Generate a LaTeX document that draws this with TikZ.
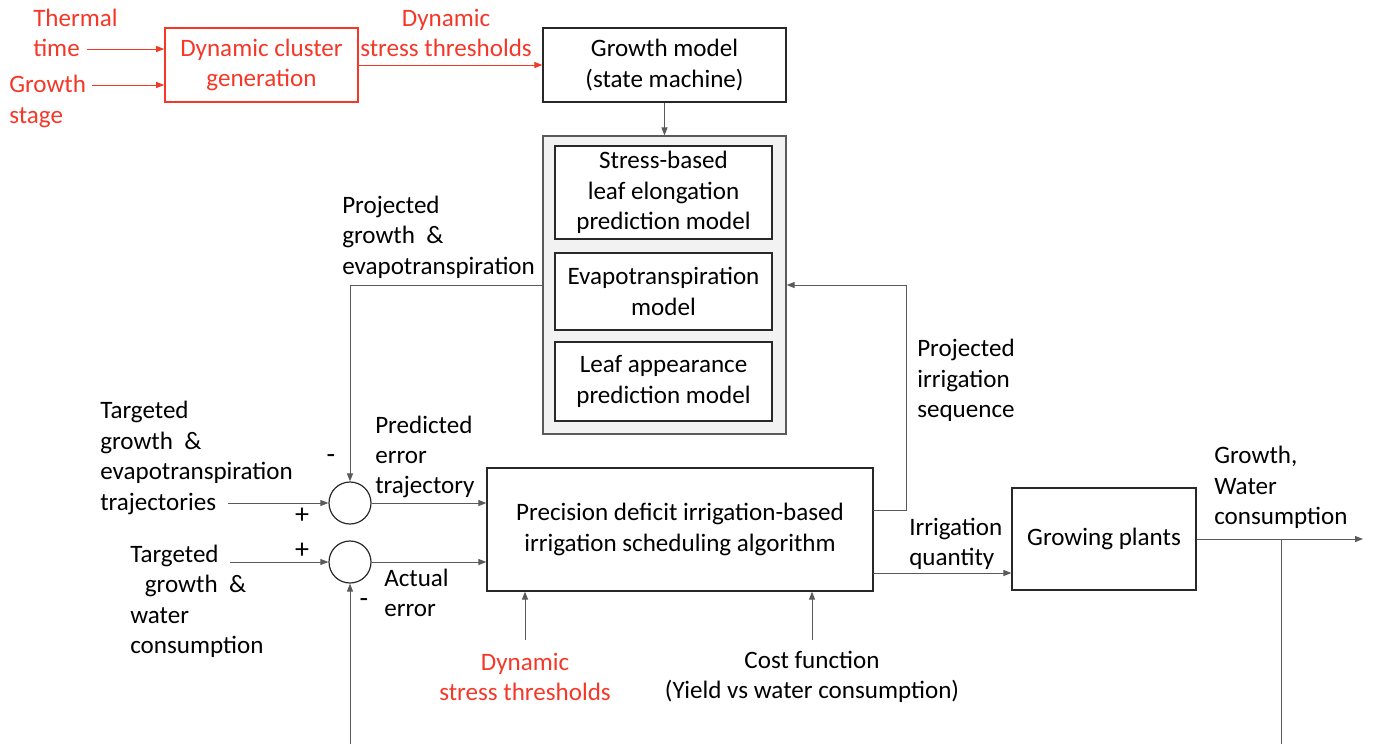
\documentclass[tikz,border=0pt]{standalone}
\usepackage{fontspec}
\setmainfont{Carlito}
\usetikzlibrary{arrows.meta,calc}
\definecolor{rd}{RGB}{245,55,40}
\definecolor{ln}{RGB}{90,90,90}
\definecolor{bx}{RGB}{40,40,40}
\begin{document}
\begin{tikzpicture}[x=0.75pt,y=-0.75pt,
  every node/.style={font=\fontsize{18.8}{22.8}\selectfont, inner sep=0pt},
  box/.style={draw=bx, fill=white, line width=0.9pt, align=center},
  redbox/.style={draw=rd, line width=1.2pt, align=center, text=rd},
  outerbox/.style={draw=ln, fill=black!5, line width=0.9pt},
  sumnode/.style={draw=bx, line width=0.9pt, circle, minimum size=31.5pt},
  conn/.style={draw=ln, line width=0.75pt},
  arr/.style={conn, -{Triangle[length=6pt,width=4.5pt]}},
  redarr/.style={draw=rd, line width=0.75pt, -{Triangle[length=6pt,width=4.5pt]}},
  lbl/.style={align=left, anchor=west},
  clbl/.style={align=center},
  redlbl/.style={text=rd},
  sign/.style={font=\fontsize{21}{22}\selectfont}]
\useasboundingbox (0,0) rectangle (1373,744);
% boxes
\node[redbox, minimum width=144.75pt, minimum height=55.5pt] (dcg) at (261.5,65) {Dynamic cluster\\generation};
\node[box, minimum width=182.25pt, minimum height=55.5pt] (gm) at (664.5,65) {Growth model\\(state machine)};
\node[outerbox, minimum width=182.25pt, minimum height=223.5pt] (outer) at (664.5,285) {};
\node[box, minimum width=162.75pt, minimum height=69.75pt] (m1) at (663.5,192.5) {Stress-based\\leaf elongation\\prediction model};
\node[box, minimum width=162.75pt, minimum height=57.75pt] (m2) at (663.5,291.5) {Evapotranspiration\\model};
\node[box, minimum width=162.75pt, minimum height=59.25pt] (m3) at (663.5,381.5) {Leaf appearance\\prediction model};
\node[box, minimum width=289.5pt, minimum height=92.25pt] (main) at (680,529.5) {Precision deficit irrigation-based\\irrigation scheduling algorithm};
\node[box, minimum width=138pt, minimum height=76.5pt] (plants) at (1104,539) {Growing plants};
\node[sumnode] (c1) at (350,503) {};
\node[sumnode] (c2) at (350,562) {};
% labels
\node[lbl, redlbl] (tt) at (33,33) {Thermal\\time};
\node[lbl, redlbl] (gs) at (9,101.5) {Growth\\stage};
\node[clbl, redlbl] (dst) at (446,33) {Dynamic\\stress thresholds};
\node[lbl] (pge) at (342,237) {Projected\\growth~~\&\\evapotranspiration};
\node[lbl] (tge) at (100,458) {Targeted\\growth~~\&\\evapotranspiration\\trajectories};
\node[lbl] (tgw) at (130,601.5) {Targeted\\\hspace{11pt}growth~~\&\\water\\consumption};
\node[lbl] (pet) at (375,457) {Predicted\\error\\trajectory};
\node[lbl] (ae) at (384,593) {Actual\\error};
\node[clbl, redlbl] (dst2) at (525,677) {Dynamic\\stress thresholds};
\node[clbl] (cf) at (812,677) {Cost function\\(Yield vs water consumption)};
\node[lbl] (pis) at (917,380.5) {Projected\\irrigation\\sequence};
\node[lbl] (iq) at (909,544) {Irrigation\\quantity};
\node[lbl] (gwc) at (1214,487.5) {Growth,\\Water\\consumption};
\node[sign] (p1) at (302,516) {+};
\node[sign] (p2) at (302,551) {+};
\node[sign] (n1) at (331,459) {-};
\node[sign] (n2) at (364,603) {-};
% coordinates
\coordinate (ttin) at (87,49);
\coordinate (gsin) at (92,85);
\coordinate (tgein) at (228,503);
\coordinate (tgwin) at (230,562);
\coordinate (fbbot) at (350,744);
\coordinate (dsin) at (525,640);
\coordinate (cfin) at (812,640);
\coordinate (pisa) at (873,510);
\coordinate (pisb) at (906,510);
\coordinate (iqa) at (873,573);
\coordinate (outend) at (1363,539);
\coordinate (fbtop) at (1281,539);
\coordinate (fbend) at (1281,744);
% connectors
\draw[redarr] (ttin) -- (ttin -| dcg.west);
\draw[redarr] (gsin) -- (gsin -| dcg.west);
\draw[redarr] (dcg.east) -- (gm.west);
\draw[arr] (gm.south) -- (outer.north);
\draw[arr] (outer.west) -| (c1.north);
\draw[arr] (tgein) -- (c1.west);
\draw[arr] (tgwin) -- (c2.west);
\draw[arr] (c1.east) -- (c1.east -| main.west);
\draw[arr] (c2.east) -- (c2.east -| main.west);
\draw[arr] (fbbot) -- (c2.south);
\draw[arr] (dsin) -- (dsin |- main.south);
\draw[arr] (cfin) -- (cfin |- main.south);
\draw[arr] (pisa) -- (pisb) |- (outer.east);
\draw[arr] (iqa) -- (iqa -| plants.west);
\draw[arr] (plants.east) -- (outend);
\draw[conn] (fbtop) -- (fbend);
\end{tikzpicture}
\end{document}
